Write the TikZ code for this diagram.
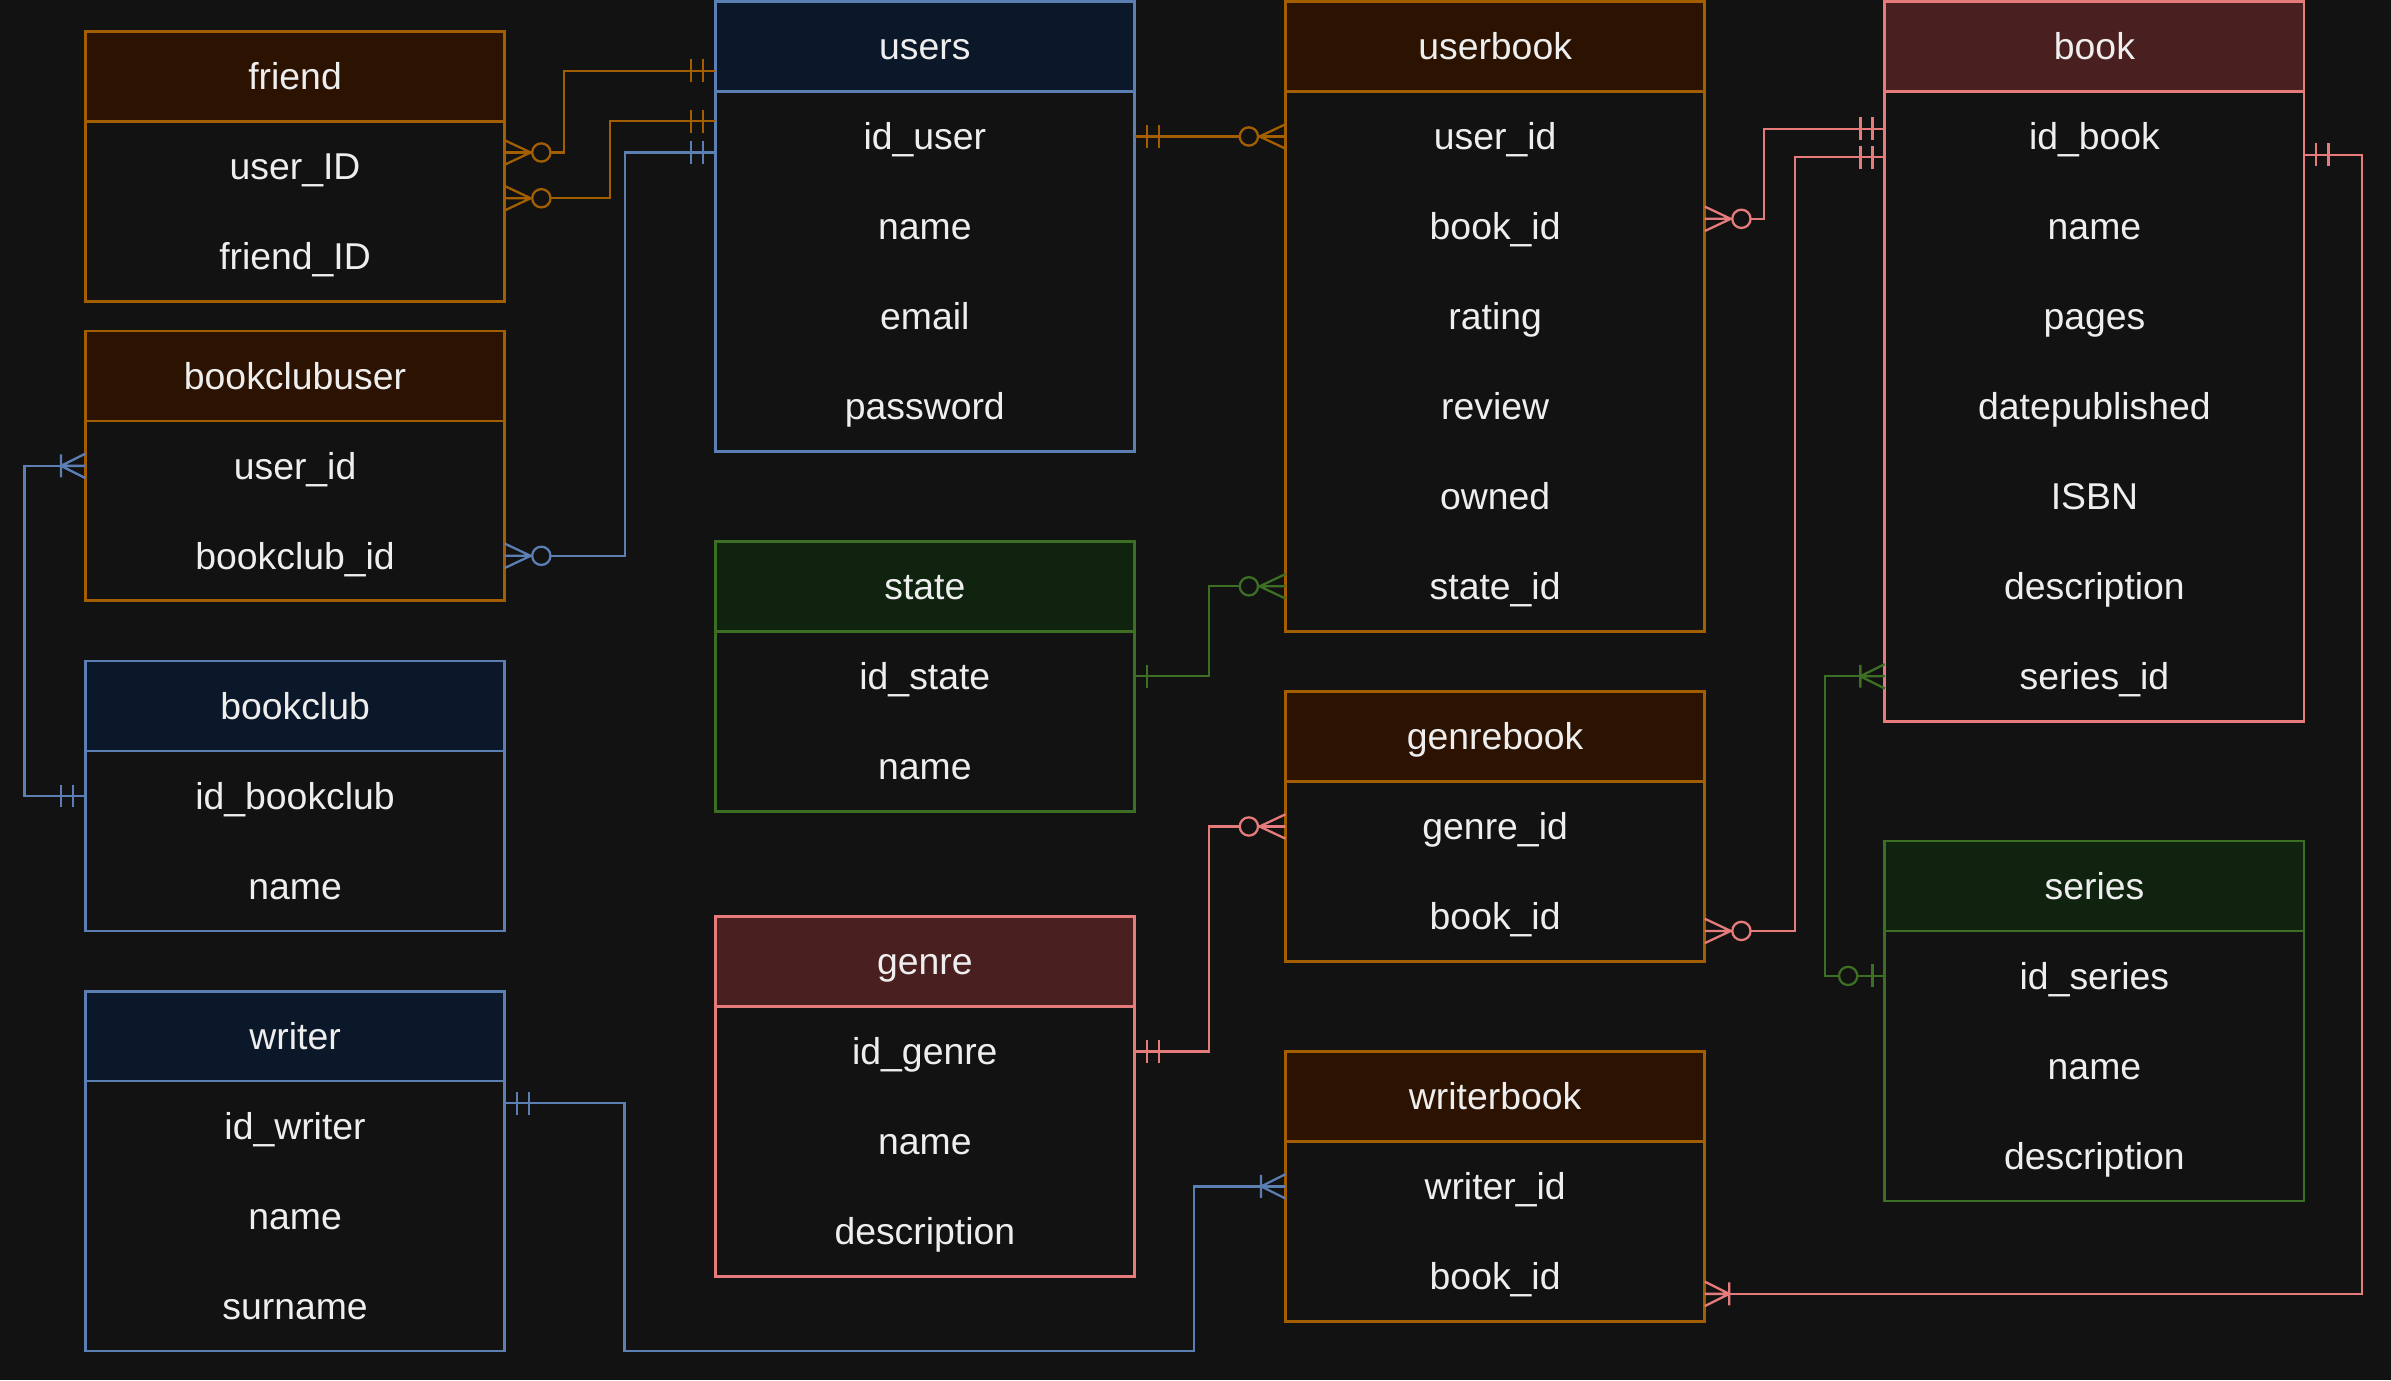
\documentclass[tikz,border=0pt]{standalone}
\usepackage{fontspec}
\setmainfont{Liberation Sans}
\usetikzlibrary{calc}
\definecolor{bg}{HTML}{121212}
\definecolor{orline}{HTML}{A35E00}
\definecolor{orhead}{HTML}{2C1200}
\definecolor{blline}{HTML}{5B7EB3}
\definecolor{blhead}{HTML}{0B1829}
\definecolor{rdline}{HTML}{E57B7B}
\definecolor{rdhead}{HTML}{4A1F1F}
\definecolor{grline}{HTML}{3C6E24}
\definecolor{grhead}{HTML}{10230E}
\definecolor{txt}{HTML}{EEEEEE}
\tikzset{
  erbody/.style={draw, line width=1.75pt, fill=bg, minimum width=275pt, inner sep=0pt, outer sep=0pt, anchor=north west},
  erhead/.style={draw, line width=1.75pt, minimum width=275pt, minimum height=59pt, inner sep=0pt, outer sep=0pt, anchor=north west},
  ertext/.style={text=txt, font=\fontsize{24.5}{29}\selectfont, anchor=base, inner sep=0pt},
  conn/.style={line width=1.5pt, line join=miter},
  symb/.style={line width=1.5pt},
}
\newcommand\entity[7]{%
  \node[erbody, draw=#4line, minimum height={(#6+1)*59pt}] (#1) at (#2,#3) {};
  \node[erhead, draw=#4line, fill=#4head] (#1-h) at (#2,#3) {};
  \node[ertext] (#1-t) at ($(#1-h.center)+(0,8.8)$) {#5};
  \foreach \r [count=\i] in {#7} {
    \node[ertext] (#1-\i) at ($(#1-h.center)+(0,{8.8+\i*59})$) {\r};
  }%
}
% symbols: #1 coordinate, #2 direction (1 right, -1 left), #3 colour
\newcommand\symOneOne[3]{%
  \begin{scope}[shift={(#1)}, xscale=#2]
    \draw[symb, #3] (8,-7.5) -- (8,7.5) (16,-7.5) -- (16,7.5);
  \end{scope}}
\newcommand\symOne[3]{%
  \begin{scope}[shift={(#1)}, xscale=#2]
    \draw[symb, #3] (8,-7.5) -- (8,7.5);
  \end{scope}}
\newcommand\symZeroMany[3]{%
  \begin{scope}[shift={(#1)}, xscale=#2]
    \draw[symb, #3] (17,0) -- (0,-8) (17,0) -- (0,8) (17,0) -- (0,0);
    \draw[symb, #3, fill=bg] (24,0) circle[radius=6];
  \end{scope}}
\newcommand\symOneMany[3]{%
  \begin{scope}[shift={(#1)}, xscale=#2]
    \draw[symb, #3] (16,0) -- (0,-8) (16,0) -- (0,8) (16,0) -- (0,0) (16,-7.5) -- (16,7.5);
  \end{scope}}
\newcommand\symZeroOne[3]{%
  \begin{scope}[shift={(#1)}, xscale=#2]
    \draw[symb, #3] (8,-7.5) -- (8,7.5);
    \draw[symb, #3, fill=bg] (24,0) circle[radius=6];
  \end{scope}}
\begin{document}
\begin{tikzpicture}[x=1pt, y=-1pt]
\fill[bg] (0,0) rectangle (1568,905);
\useasboundingbox (0,0) rectangle (1568,905);

% entities
\entity{friend}{56}{20.5}{or}{friend}{2}{user\_ID,friend\_ID}
\entity{bcu}{56}{217}{or}{bookclubuser}{2}{user\_id,bookclub\_id}
\entity{bookclub}{56}{433.5}{bl}{bookclub}{2}{id\_bookclub,name}
\entity{writer}{56}{650}{bl}{writer}{3}{id\_writer,name,surname}
\entity{users}{469}{1}{bl}{users}{4}{id\_user,name,email,password}
\entity{state}{469}{355}{gr}{state}{2}{id\_state,name}
\entity{genre}{469}{601}{rd}{genre}{3}{id\_genre,name,description}
\entity{userbook}{843}{1}{or}{userbook}{6}{user\_id,book\_id,rating,review,owned,state\_id}
\entity{genrebook}{843}{453.5}{or}{genrebook}{2}{genre\_id,book\_id}
\entity{writerbook}{843}{689.5}{or}{writerbook}{2}{writer\_id,book\_id}
\entity{book}{1236}{1}{rd}{book}{7}{id\_book,name,pages,datepublished,ISBN,description,series\_id}
\entity{series}{1236}{551.5}{gr}{series}{3}{id\_series,name,description}

% connection points
\coordinate (f1) at ($(friend.north east)+(0,79.5)$);
\coordinate (f2) at ($(friend.north east)+(0,109.5)$);
\coordinate (u1) at ($(users.north west)+(0,45.5)$);
\coordinate (u2) at ($(users.north west)+(0,78.5)$);
\coordinate (u3) at ($(users.north west)+(0,99)$);
\coordinate (u4) at ($(users.north east)+(0,88.5)$);
\coordinate (b2) at ($(bcu.north east)+(0,147.5)$);
\coordinate (bu1) at ($(bcu.north west)+(0,88.5)$);
\coordinate (bc1) at ($(bookclub.north west)+(0,88.5)$);
\coordinate (ub1) at ($(userbook.north west)+(0,88.5)$);
\coordinate (ub2) at ($(userbook.north east)+(0,142.5)$);
\coordinate (ub3) at ($(userbook.north west)+(0,383.5)$);
\coordinate (bk1) at ($(book.north west)+(0,83.5)$);
\coordinate (bk2) at ($(book.north west)+(0,102)$);
\coordinate (bk3) at ($(book.north east)+(0,100.5)$);
\coordinate (bk4) at ($(book.north west)+(0,442.5)$);
\coordinate (gb1) at ($(genrebook.north west)+(0,88.5)$);
\coordinate (gb2) at ($(genrebook.north east)+(0,157)$);
\coordinate (wb1) at ($(writerbook.north west)+(0,88.5)$);
\coordinate (wb2) at ($(writerbook.north east)+(0,159)$);
\coordinate (st1) at ($(state.north east)+(0,88.5)$);
\coordinate (gn1) at ($(genre.north east)+(0,88.5)$);
\coordinate (se1) at ($(series.north west)+(0,88.5)$);
\coordinate (wr1) at ($(writer.north east)+(0,73.5)$);

% connectors
\draw[conn, orline] (f1) -- ++(39,0) |- (u1);
\draw[conn, orline] (f2) -- ++(69,0) |- (u2);
\draw[conn, blline] (b2) -- ++(79,0) |- (u3);
\draw[conn, orline] (u4) -- (ub1);
\draw[conn, rdline] (ub2) -- ++(39,0) |- (bk1);
\draw[conn, rdline] (gb2) -- ++(59,0) |- (bk2);
\draw[conn, rdline] (bk3) -- ++(38,0) |- (wb2);
\draw[conn, grline] (st1) -- ++(49,0) |- (ub3);
\draw[conn, blline] (bu1) -- ++(-40,0) |- (bc1);
\draw[conn, rdline] (gn1) -- ++(49,0) |- (gb1);
\draw[conn, grline] (bk4) -- ++(-39,0) |- (se1);
\draw[conn, blline] (wr1) -- ++(78.6,0) |- ++(373.4,162.5) |- (wb1);

% cardinality symbols
\symZeroMany{f1}{1}{orline}
\symZeroMany{f2}{1}{orline}
\symOneOne{u1}{-1}{orline}
\symOneOne{u2}{-1}{orline}
\symZeroMany{b2}{1}{blline}
\symOneOne{u3}{-1}{blline}
\symOneOne{u4}{1}{orline}
\symZeroMany{ub1}{-1}{orline}
\symZeroMany{ub2}{1}{rdline}
\symOneOne{bk1}{-1}{rdline}
\symZeroMany{gb2}{1}{rdline}
\symOneOne{bk2}{-1}{rdline}
\symOneOne{bk3}{1}{rdline}
\symOneMany{wb2}{1}{rdline}
\symOne{st1}{1}{grline}
\symZeroMany{ub3}{-1}{grline}
\symOneMany{bu1}{-1}{blline}
\symOneOne{bc1}{-1}{blline}
\symOneOne{gn1}{1}{rdline}
\symZeroMany{gb1}{-1}{rdline}
\symOneMany{bk4}{-1}{grline}
\symZeroOne{se1}{-1}{grline}
\symOneOne{wr1}{1}{blline}
\symOneMany{wb1}{-1}{blline}
\end{tikzpicture}
\end{document}
